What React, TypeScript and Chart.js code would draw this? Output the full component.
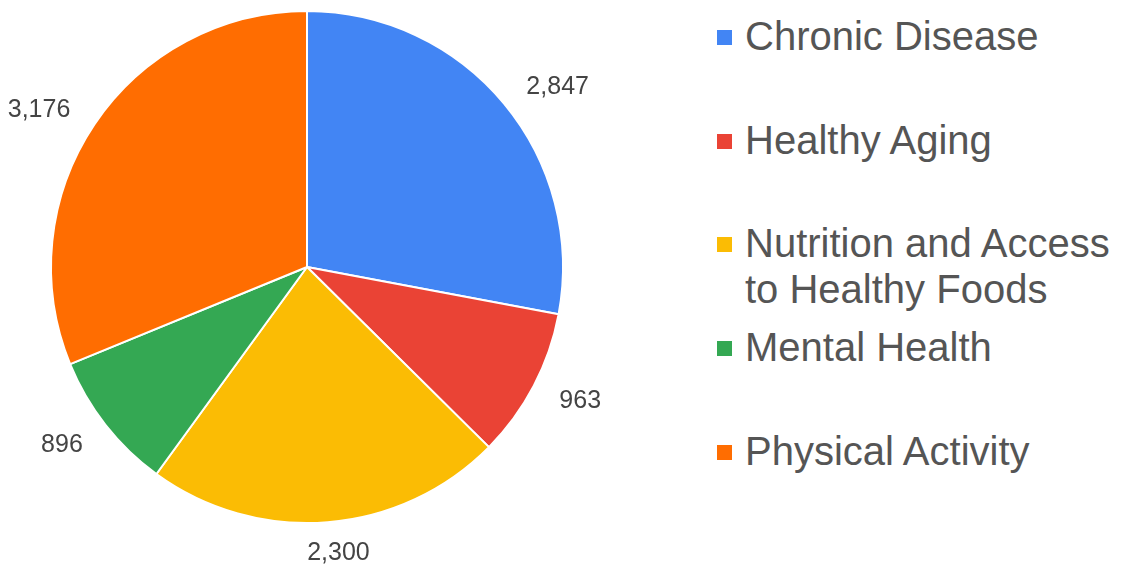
import React, { useEffect, useRef } from "react";
import { Chart, registerables } from "chart.js";

Chart.register(...registerables);

const categories = [
  "Chronic Disease",
  "Healthy Aging",
  "Nutrition and Access to Healthy Foods",
  "Mental Health",
  "Physical Activity",
];
const values = [2847, 963, 2300, 896, 3176];
const colors = ["#4285F4", "#EA4335", "#FBBC04", "#34A853", "#FF6D01"];

const FONT = '"Liberation Sans", Arial, sans-serif';
const LABEL_SIZE = 25;

const outsideLabels = {
  id: "outsideLabels",
  afterDatasetsDraw(chart: any) {
    const ctx = chart.ctx;
    const meta = chart.getDatasetMeta(0);
    const data = chart.data.datasets[0].data as number[];
    ctx.save();
    ctx.font = `${LABEL_SIZE}px ${FONT}`;
    ctx.fillStyle = "#444444";
    ctx.textBaseline = "alphabetic";
    ctx.textAlign = "center";
    meta.data.forEach((arc: any, i: number) => {
      const { x, y, startAngle, endAngle, outerRadius } = arc.getProps(
        ["x", "y", "startAngle", "endAngle", "outerRadius"],
        true
      );
      const mid = (startAngle + endAngle) / 2;
      const c = Math.cos(mid);
      const s = Math.sin(mid);
      const text = data[i].toLocaleString("en-US");
      const w = ctx.measureText(text).width;
      const h = LABEL_SIZE * 0.716;
      const d = outerRadius + 29;
      const px = x + c * d;
      const py = y + s * d;
      const k = Math.max(-1, Math.min(1, c / 0.3));
      ctx.fillText(text, px + (k * w) / 2, py + h / 2);
    });
    ctx.restore();
  },
};

export default function App() {
  const canvasRef = useRef<HTMLCanvasElement | null>(null);

  useEffect(() => {
    if (!canvasRef.current) return;
    const chart = new Chart(canvasRef.current, {
      type: "pie",
      data: {
        labels: categories,
        datasets: [
          {
            data: values,
            backgroundColor: colors,
            borderColor: "#ffffff",
            borderWidth: 2,
          },
        ],
      },
      options: {
        animation: false,
        responsive: false,
        maintainAspectRatio: false,
        layout: { padding: { left: 50, right: 50, top: 10, bottom: 41 } },
        plugins: {
          legend: { display: false },
          tooltip: { enabled: false },
        },
      },
      plugins: [outsideLabels],
    });
    return () => chart.destroy();
  }, []);

  return (
    <div
      style={{
        position: "fixed",
        left: 0,
        top: 0,
        width: 1127,
        height: 565,
        background: "#ffffff",
        overflow: "hidden",
      }}
    >
      <canvas
        ref={canvasRef}
        width={614}
        height={565}
        style={{ position: "absolute", left: 0, top: 0, width: 614, height: 565 }}
      />
      {categories.map((cat, i) => {
        const cy = 37.5 + 103.7 * i;
        return (
          <div
            key={cat}
            style={{
              position: "absolute",
              left: 717,
              top: cy - 24.5,
              fontFamily: FONT,
              fontSize: 40,
              lineHeight: "46px",
              color: "#555555",
            }}
          >
            <div
              style={{
                position: "absolute",
                left: 0,
                top: 17,
                width: 15,
                height: 15,
                background: colors[i],
              }}
            />
            <div style={{ position: "absolute", left: 28, top: 0, width: 385 }}>
              {cat}
            </div>
          </div>
        );
      })}
    </div>
  );
}
